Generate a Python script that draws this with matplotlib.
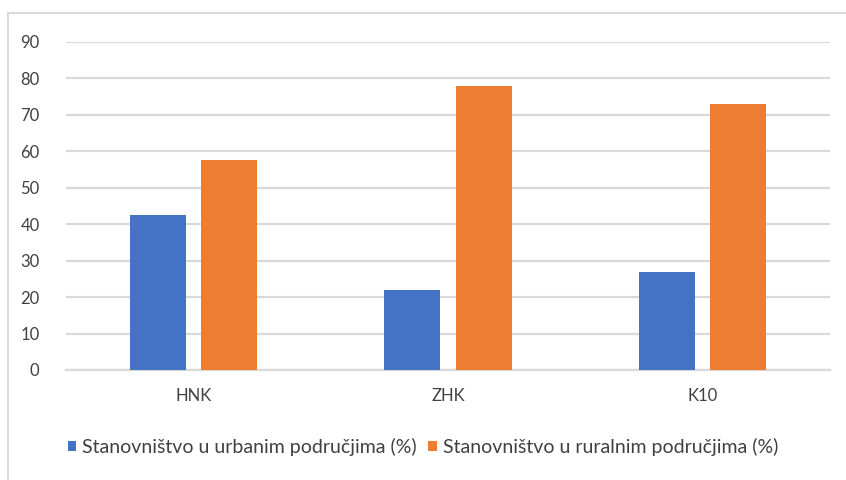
import numpy as np
import matplotlib.pyplot as plt
from matplotlib.patches import Rectangle

# =====================================
# Podaci
# =====================================

categories = ["HNK", "ZHK", "K10"]

urban = [42.5, 22, 27]

rural = [57.5, 78, 73]

series_names = [
    "Stanovništvo u urbanim područjima (%)",
    "Stanovništvo u ruralnim područjima (%)",
]

y_ticks = [0, 10, 20, 30, 40, 50, 60, 70, 80, 90]

# =====================================
# Stil
# =====================================

plt.rcParams["font.family"] = ["Lato", "DejaVu Sans"]

blue = "#4472C4"
orange = "#ED7D31"
grid_col = "#D9D9D9"
text_col = "#404040"

fig = plt.figure(figsize=(8.46, 4.8), dpi=100)

# okvir grafikona
fig.patches.append(
    Rectangle((8 / 846, -0.01), 1.0, (480 - 13) / 480 + 0.01,
              transform=fig.transFigure, fill=False,
              edgecolor="#D9D9D9", linewidth=1.5, zorder=0)
)

ax = fig.add_axes([66 / 846, (480 - 370) / 480, (830 - 66) / 846, (370 - 42) / 480])

x = np.arange(len(categories))
width = 0.22
offset = 0.14

ax.bar(x - offset, urban, width, color=blue, label=series_names[0], zorder=3)
ax.bar(x + offset, rural, width, color=orange, label=series_names[1], zorder=3)

ax.set_xlim(-0.5, len(categories) - 0.5)
ax.set_ylim(0, 90)
ax.set_yticks(y_ticks)
ax.set_xticks(x)
ax.set_xticklabels(categories)

ax.yaxis.grid(True, color=grid_col, linewidth=1.6)
ax.set_axisbelow(True)

for side in ["top", "right", "left"]:
    ax.spines[side].set_visible(False)
ax.spines["bottom"].set_color(grid_col)
ax.spines["bottom"].set_linewidth(1.6)

ax.tick_params(axis="both", length=0, labelsize=12, colors=text_col)
ax.tick_params(axis="y", pad=19)
ax.tick_params(axis="x", pad=13)

ax.legend(
    loc="center", bbox_to_anchor=(0.5, (480 - 447) / 480), bbox_transform=fig.transFigure,
    ncol=2, frameon=False, fontsize=14, handlelength=0.45, handleheight=0.45,
    handletextpad=0.3, columnspacing=0.6, labelcolor=text_col,
)

fig.savefig("out.png", dpi=100)
